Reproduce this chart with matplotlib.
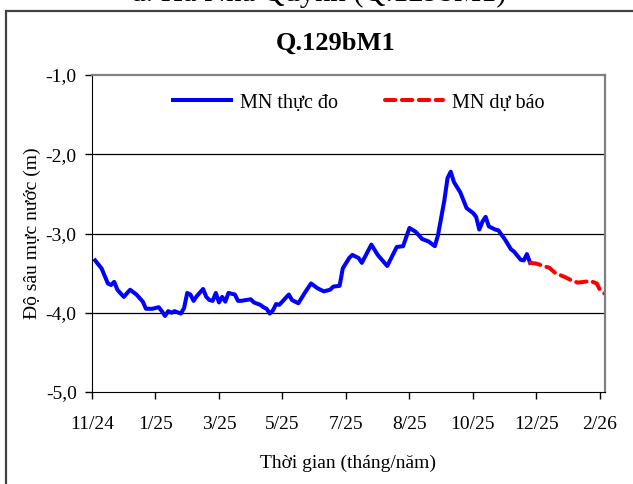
import matplotlib
matplotlib.use("Agg")
import matplotlib.pyplot as plt
from matplotlib.patches import Rectangle

plt.rcParams['font.family'] = ['Liberation Serif', 'DejaVu Serif']

# vi tri doc tren truc (20 buoc = 1 vach chia)
x_do = [1, 3, 5, 6, 7, 8, 10, 12, 14, 16, 17, 19, 21, 22, 23, 24, 25, 26, 28, 29,
        30, 31, 32, 33, 35, 36, 37, 38, 39, 40, 41, 42, 43, 45, 46, 47, 50, 51, 53, 54,
        55, 56, 57, 58, 59, 62, 63, 65, 67, 69, 71, 73, 75, 76, 78, 79, 81, 82, 84, 85,
        88, 90, 93, 94, 96, 98, 100, 102, 104, 106, 107, 108, 109, 111, 112, 113, 114, 116, 118, 120,
        121, 122, 123, 124, 125, 127, 128, 130, 132, 133, 135, 136, 137, 138]
mn_thuc_do = [-3.34, -3.44, -3.63, -3.65, -3.61, -3.71, -3.80, -3.71, -3.77, -3.86,
              -3.95, -3.95, -3.93, -3.98, -4.04, -3.98, -4.00, -3.98, -4.01, -3.94,
              -3.75, -3.77, -3.85, -3.79, -3.70, -3.80, -3.84, -3.85, -3.75, -3.87,
              -3.80, -3.86, -3.75, -3.77, -3.85, -3.85, -3.83, -3.87, -3.90, -3.93,
              -3.95, -4.01, -3.97, -3.89, -3.90, -3.77, -3.84, -3.88, -3.75, -3.63,
              -3.69, -3.73, -3.71, -3.67, -3.66, -3.44, -3.31, -3.27, -3.31, -3.37,
              -3.14, -3.27, -3.41, -3.33, -3.17, -3.16, -2.93, -2.98, -3.07, -3.10,
              -3.13, -3.16, -3.02, -2.58, -2.30, -2.22, -2.35, -2.48, -2.68, -2.74,
              -2.79, -2.95, -2.85, -2.79, -2.91, -2.95, -2.96, -3.07, -3.20, -3.23,
              -3.33, -3.34, -3.26, -3.37]

x_du_bao = [138, 140, 143, 144, 146, 149, 151, 153, 155, 157, 159, 160, 161.5]
mn_du_bao = [-3.37, -3.38, -3.42, -3.43, -3.50, -3.55, -3.59, -3.62, -3.61, -3.60,
             -3.63, -3.71, -3.76]

tick_pos = [0, 20, 40, 60, 80, 100, 120, 140, 160]
tick_lab = ['11/24', '1/25', '3/25', '5/25', '7/25', '8/25', '10/25', '12/25', '2/26']
y_ticks = [-5, -4, -3, -2, -1]
y_lab = ['-5,0', '-4,0', '-3,0', '-2,0', '-1,0']

W, H = 633, 484
fig = plt.figure(figsize=(W / 100, H / 100), dpi=100)

# khung ngoai (bi cat o anh goc)
fig.patches.append(Rectangle((6 / W, -0.1), 1.2, 1 - 11 / H + 0.1, transform=fig.transFigure,
                             fill=False, edgecolor='#404040', linewidth=1.6))
fig.text(319 / W, 1 - 1 / H, 'a. Hà Nha Quỳnh (Q.129bM1)', ha='center', va='baseline', fontsize=22)
fig.text(336 / W, 1 - 50 / H, 'Q.129bM1', ha='center', va='baseline', fontsize=19, fontweight='bold')

ax = fig.add_axes([92 / W, 1 - 392 / H, 513 / W, 317 / H])
ax.plot(x_do, mn_thuc_do, color='#0000ff', lw=2.9, solid_joinstyle='round', label='MN thực đo')
ax.plot(x_du_bao, mn_du_bao, color='#ff0000', lw=2.9, dashes=(2.6, 1.6), dash_capstyle='round',
        label='MN dự báo')

ax.set_xlim(0, 161.6)
ax.set_ylim(-5, -1)
ax.set_xticks(tick_pos)
ax.set_xticklabels(tick_lab, fontsize=14)
ax.set_yticks(y_ticks)
ax.set_yticklabels(y_lab, fontsize=14)
ax.tick_params(axis='x', direction='out', length=5, width=1, color='black', pad=12)
ax.tick_params(axis='y', direction='out', length=5, width=1, color='black', pad=6)
for g in [-4, -3, -2]:
    ax.axhline(g, color='black', lw=0.9, zorder=0)

ax.spines['left'].set_color('black')
ax.spines['bottom'].set_color('black')
ax.spines['top'].set_color('#808080')
ax.spines['right'].set_color('#808080')
ax.spines['top'].set_linewidth(1.6)
ax.spines['right'].set_linewidth(1.6)

ax.set_xlabel('Thời gian (tháng/năm)', fontsize=14, labelpad=16)
ax.set_ylabel('Độ sâu mực nước (m)', fontsize=14, labelpad=3)

ax.legend(loc='center', bbox_to_anchor=(0.52, 0.912), ncol=2, frameon=False, fontsize=14.5,
          handlelength=2.9, handletextpad=0.45, columnspacing=2.3)

fig.savefig('out.png', dpi=100)
